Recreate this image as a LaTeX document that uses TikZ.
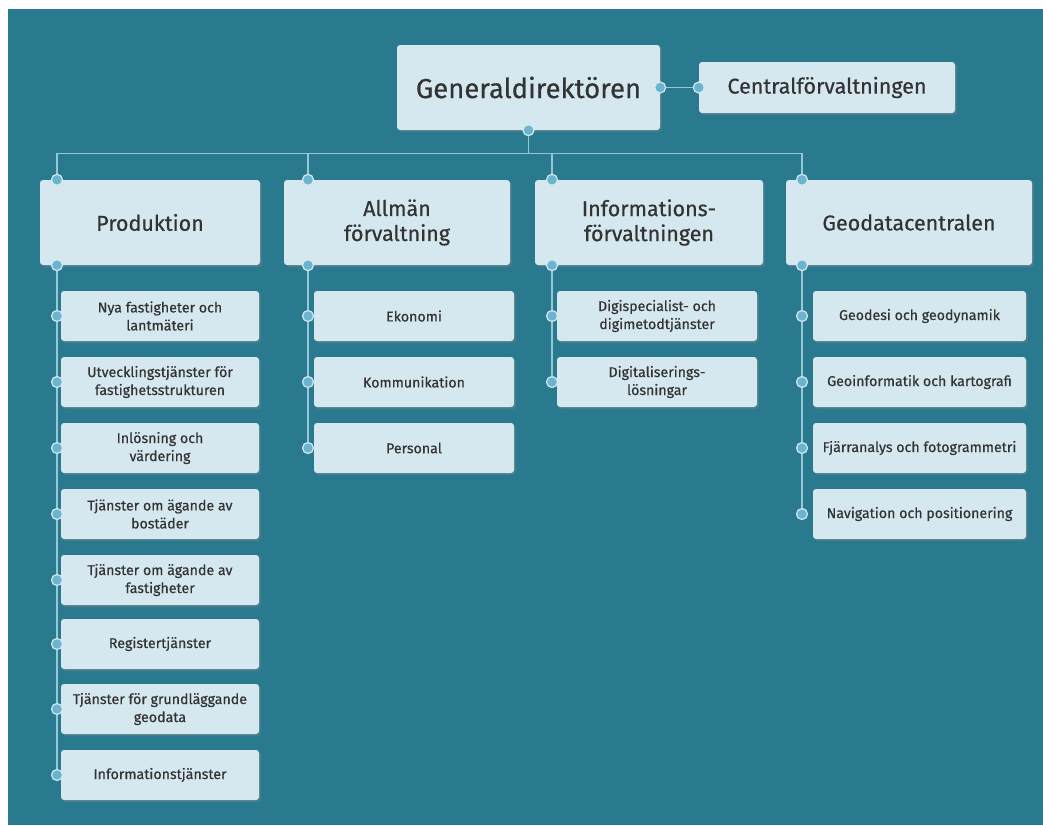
\documentclass[tikz,border=0pt]{standalone}
\usepackage{fontspec}
\setmainfont{Fira Sans}
\newfontfamily\labelfont{Fira Sans}[FakeBold=0.5]
\usetikzlibrary{shadows}
\definecolor{teal}{HTML}{2A7A8F}
\definecolor{boxfill}{HTML}{D5E8EF}
\definecolor{linkblue}{HTML}{94C8D8}
\definecolor{dotblue}{HTML}{6AB4CF}
\definecolor{ink}{HTML}{333333}
\newcommand{\topsize}{\labelfont\fontsize{27.5}{31}\selectfont}
\newcommand{\deptsize}{\labelfont\fontsize{21.5}{25}\selectfont}
\newcommand{\unitsize}{\labelfont\fontsize{14.2}{18}\selectfont}

\begin{document}
\begin{tikzpicture}[x=1pt, y=-1pt,
                    box/.style={fill=boxfill, rounded corners=3pt, text=ink, align=center,
                                inner sep=0pt, drop shadow={shadow xshift=2pt, shadow yshift=-2pt, opacity=0.35}},
                    head/.style={box, font=\topsize, minimum height=85pt},
                    dept/.style={box, font=\deptsize, minimum height=85pt},
                    unit/.style={box, font=\unitsize, minimum height=50pt},
                    link/.style={draw=linkblue, line width=1.4pt},
                    dot/.style={circle, fill=dotblue, draw=boxfill, line width=1.2pt,
                                minimum size=11pt, inner sep=0pt}]

    \useasboundingbox (0,0) rectangle (1043,825);
    \fill[teal] (8,9) rectangle (1043,825);

    % top level
    \node[head, minimum width=263pt] (gd) at (528.5,87.5) {Generaldirektören};
    \node[unit, font=\deptsize, minimum width=256pt, minimum height=51pt] (cf) at (827,87.5) {Centralförvaltningen};
    \draw[link] (gd.east) -- (cf.west);
    \node[dot] at (gd.east) {};
    \node[dot] at (cf.west) {};

    % departments
    \node[dept, minimum width=220pt] (prod) at (150,222.5) {Produktion};
    \node[dept, minimum width=226pt] (allm) at (397,222.5) {Allmän\\förvaltning};
    \node[dept, minimum width=228pt] (info) at (649,222.5) {Informations-\\förvaltningen};
    \node[dept, minimum width=246pt] (geo) at (909,222.5) {Geodatacentralen};

    \coordinate (prodline) at (57,0);
    \coordinate (allmline) at (308,0);
    \coordinate (infoline) at (552,0);
    \coordinate (geoline) at (802,0);

    \draw[link] (gd.south) -- ++(0,23) coordinate (bus);
    \foreach \d in {prod,allm,info,geo} {
        \draw[link] (bus) -| (\d.north -| \d line);
    }

    % units
    \foreach \t/\y [count=\i] in {{Nya fastigheter och\\lantmäteri}/316,
                                  {Utvecklingstjänster för\\fastighetsstrukturen}/382,
                                  {Inlösning och\\värdering}/448,
                                  {Tjänster om ägande av\\bostäder}/514,
                                  {Tjänster om ägande av\\fastigheter}/580,
                                  {Registertjänster}/644,
                                  {Tjänster för grundläggande\\geodata}/709,
                                  {Informationstjänster}/775}
        \node[unit, minimum width=198pt] (prod\i) at (160,\y) {\t};
    \foreach \t/\y [count=\i] in {{Ekonomi}/316, {Kommunikation}/382, {Personal}/448}
        \node[unit, minimum width=200pt] (allm\i) at (414,\y) {\t};
    \foreach \t/\y [count=\i] in {{Digispecialist- och\\digimetodtjänster}/316,
                                  {Digitaliserings-\\lösningar}/382}
        \node[unit, minimum width=200pt] (info\i) at (657,\y) {\t};
    \foreach \t/\y [count=\i] in {{Geodesi och geodynamik}/316,
                                  {Geoinformatik och kartografi}/382,
                                  {Fjärranalys och fotogrammetri}/448,
                                  {Navigation och positionering}/514}
        \node[unit, minimum width=213pt] (geo\i) at (919.5,\y) {\t};

    % column lines
    \draw[link] (prod.south -| prodline) -- (prod8.west -| prodline);
    \draw[link] (allm.south -| allmline) -- (allm3.west -| allmline);
    \draw[link] (info.south -| infoline) -- (info2.west -| infoline);
    \draw[link] (geo.south -| geoline) -- (geo4.west -| geoline);

    % dots
    \foreach \d in {prod,allm,info,geo} {
        \node[dot] at (\d.north -| \d line) {};
        \node[dot] at (\d.south -| \d line) {};
    }
    \node[dot] at (gd.south) {};
    \foreach \i in {1,...,8} \node[dot] at (prod\i.west -| prodline) {};
    \foreach \i in {1,...,3} \node[dot] at (allm\i.west -| allmline) {};
    \foreach \i in {1,2} \node[dot] at (info\i.west -| infoline) {};
    \foreach \i in {1,...,4} \node[dot] at (geo\i.west -| geoline) {};
\end{tikzpicture}
\end{document}
